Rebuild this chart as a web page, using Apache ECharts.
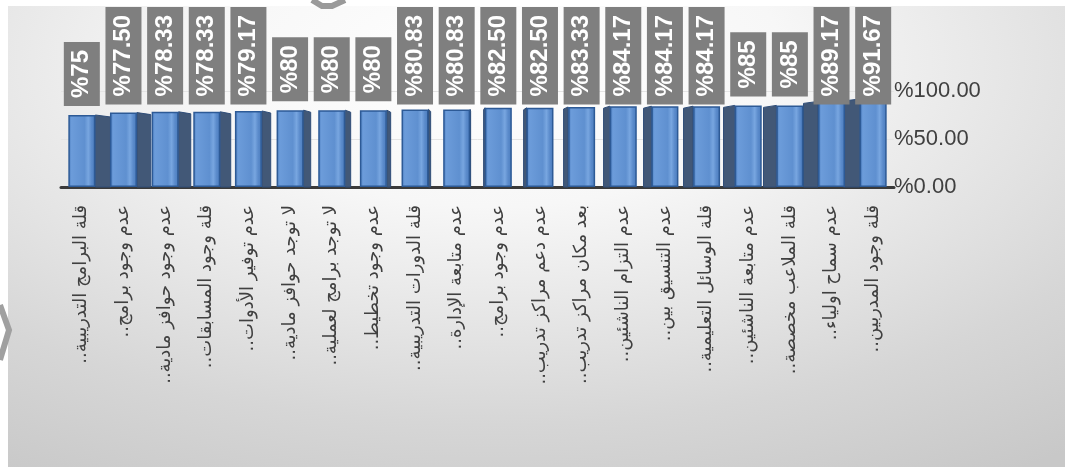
<!DOCTYPE html>
<html>
<head>
<meta charset="utf-8">
<script src="https://cdn.jsdelivr.net/npm/echarts@6/dist/echarts.min.js"></script>
<style>
html,body{margin:0;padding:0;background:#ffffff;}
#chart{width:1065px;height:467px;direction:rtl;}
</style>
</head>
<body>
<div id="chart" dir="rtl"></div>
<script>
var categories = [
  'قلة البرامج التدريبية..',
  'عدم وجود برامج..',
  'عدم وجود حوافز مادية..',
  'قلة وجود المسابقات..',
  'عدم توفير الأدوات..',
  'لا توجد حوافز مادية..',
  'لا توجد برامج لعملية..',
  'عدم وجود تخطيط..',
  'قلة الدورات التدريبية..',
  'عدم متابعة الإدارة..',
  'عدم وجود برامج..',
  'عدم دعم مراكز تدريب..',
  'بعد مكان مراكز تدريب..',
  'عدم التزام الناشئين..',
  'عدم التنسيق بين..',
  'قلة الوسائل التعليمية..',
  'عدم متابعة الناشئين..',
  'قلة الملاعب مخصصة..',
  'عدم سماح اولياء..',
  'قلة وجود المدربين..'
];
var values = [75, 77.5, 78.33, 78.33, 79.17, 80, 80, 80, 80.83, 80.83, 82.5, 82.5, 83.33, 84.17, 84.17, 84.17, 85, 85, 89.17, 91.67];
var valueLabels = ['%75', '%77.50', '%78.33', '%78.33', '%79.17', '%80', '%80', '%80', '%80.83', '%80.83', '%82.50', '%82.50', '%83.33', '%84.17', '%84.17', '%84.17', '%85', '%85', '%89.17', '%91.67'];
var yTicks = [0, 50, 100];
var yTickLabels = ['%0.00', '%50.00', '%100.00'];

var chart = echarts.init(document.getElementById('chart'), null, {renderer: 'canvas'});

var sideData = values.map(function (v, i) { return [i, v]; });
var LABEL_GAP = 9;
var LABEL_TOP_LIMIT = 7;
var LABEL_FONT = 'bold 24px "Liberation Sans", Arial, sans-serif';
var LABEL_PAD_X = 8;

var option = {
  backgroundColor: '#ffffff',
  animation: false,
  graphic: [
    {
      type: 'rect', z: -10, silent: true,
      x: 8, y: 6, scaleX: 2,
      shape: {x: 0, y: 0, width: 528.5, height: 461},
      style: {
        fill: {
          type: 'radial', x: 0.46, y: 0.12, r: 1.05,
          colorStops: [
            {offset: 0, color: '#ffffff'},
            {offset: 0.3, color: '#f7f7f7'},
            {offset: 0.75, color: '#d6d6d6'},
            {offset: 1, color: '#c8c8c8'}
          ]
        }
      }
    },
    {
      type: 'polyline', z: -5, silent: true,
      shape: {points: [[312, 0], [322, 6], [332, 6], [345, 0]]},
      style: {stroke: '#9a9a9a', lineWidth: 6, fill: null}
    },
    {
      type: 'polyline', z: 20, silent: true,
      shape: {points: [[0, 305], [9, 330], [0, 360]]},
      style: {stroke: '#a0a0a0', lineWidth: 6, fill: null}
    }
  ],
  grid: {left: 61, right: 171, top: 91, bottom: 280, containLabel: false},
  xAxis: {
    type: 'category',
    data: categories,
    boundaryGap: true,
    axisTick: {show: false},
    axisLine: {show: true, lineStyle: {color: '#3a3a3a', width: 3}},
    axisLabel: {
      interval: 0, rotate: 90, margin: 18,
      color: '#404040', fontSize: 18,
      fontFamily: 'DejaVu Sans'
    }
  },
  yAxis: {
    type: 'value', position: 'right',
    min: 0, max: 100, interval: 50,
    axisLine: {show: false},
    axisTick: {show: false},
    splitLine: {show: true, lineStyle: {color: '#e4e4e4', width: 1}},
    axisLabel: {
      margin: 0, color: '#404040', fontSize: 22,
      fontFamily: 'Liberation Sans, Arial, sans-serif',
      formatter: function (v) {
        var k = yTicks.indexOf(v);
        return k >= 0 ? yTickLabels[k] : '';
      }
    }
  },
  series: [
    {
      type: 'custom',
      z: 1,
      silent: true,
      data: sideData,
      renderItem: function (params, api) {
        var topP = api.coord([api.value(0), api.value(1)]);
        var baseP = api.coord([api.value(0), 0]);
        var xc = topP[0];
        var half = 13.5;
        var w = (468 - xc) * 0.04;
        var x0 = w >= 0 ? xc + half : xc - half;
        var x1 = x0 + w;
        return {
          type: 'polygon',
          shape: {points: [[x0, topP[1]], [x1, topP[1] + 2], [x1, baseP[1]], [x0, baseP[1]]]},
          style: {fill: '#425877', stroke: '#2f4d78', lineWidth: 1}
        };
      }
    },
    {
      type: 'bar',
      z: 2,
      data: values,
      barWidth: 27,
      itemStyle: {
        borderColor: '#2d5a96', borderWidth: 1.5,
        color: {
          type: 'linear', x: 0, y: 0, x2: 1, y2: 0,
          colorStops: [
            {offset: 0, color: '#4b7dbf'},
            {offset: 0.12, color: '#6c9cda'},
            {offset: 0.6, color: '#5f90d0'},
            {offset: 0.74, color: '#78a6e0'},
            {offset: 0.86, color: '#5b8bcb'},
            {offset: 1, color: '#4a7bbd'}
          ]
        }
      },
      label: {
        show: true,
        position: 'top',
        distance: LABEL_GAP,
        rotate: 90,
        align: 'left',
        verticalAlign: 'middle',
        formatter: function (p) { return valueLabels[p.dataIndex]; },
        color: '#ffffff',
        fontWeight: 'bold',
        fontSize: 24,
        lineHeight: 26,
        fontFamily: 'Liberation Sans, Arial, sans-serif',
        backgroundColor: '#7f7f7f',
        padding: [5, LABEL_PAD_X]
      }
    }
  ]
};
chart.setOption(option);

// Keep labels inside the chart: push down any label whose box would rise above the top edge.
// The label offset is applied in the label's rotated frame (rotate 90), so a downward
// screen shift of s corresponds to offset [-s, 0].
var measureCtx = document.createElement('canvas').getContext('2d');
measureCtx.font = LABEL_FONT;
var barItems = values.map(function (v, i) {
  var top = chart.convertToPixel({xAxisIndex: 0, yAxisIndex: 0}, [i, v])[1];
  var len = measureCtx.measureText(valueLabels[i]).width + 2 * LABEL_PAD_X;
  var boxTop = top - LABEL_GAP - len;
  var shift = boxTop < LABEL_TOP_LIMIT ? LABEL_TOP_LIMIT - boxTop : 0;
  return {value: v, label: {offset: [-shift, 0]}};
});
chart.setOption({series: [{}, {data: barItems}]});
</script>
</body>
</html>
